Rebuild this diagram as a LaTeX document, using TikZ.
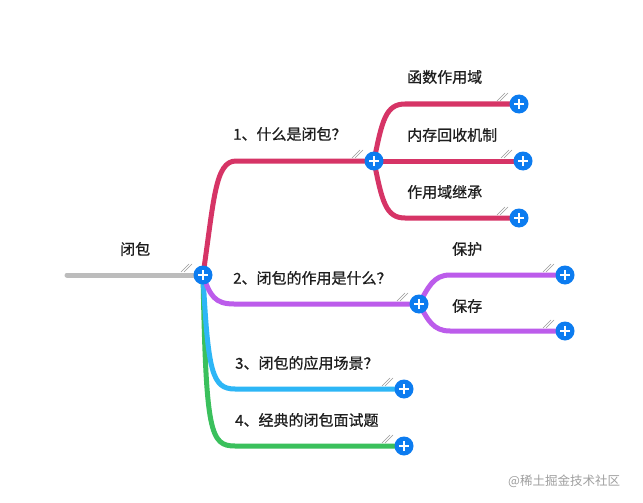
\documentclass[tikz,border=0pt]{standalone}
\usepackage{fontspec}
\setmainfont{Noto Sans CJK SC}
\newfontfamily\lblfont{Noto Sans CJK SC}[FakeBold=0.8]
\usetikzlibrary{backgrounds}
\definecolor{cred}{RGB}{214,52,102}
\definecolor{cpur}{RGB}{188,92,235}
\definecolor{cblu}{RGB}{45,182,246}
\definecolor{cgrn}{RGB}{58,192,92}
\definecolor{cgry}{RGB}{188,188,188}
\definecolor{cplus}{RGB}{12,124,240}
\definecolor{ctxt}{RGB}{30,30,30}
\tikzset{
  plusbtn/.style={circle,fill=cplus,minimum size=19pt,inner sep=0pt,
    path picture={\draw[white,line width=2.6pt]
      ([xshift=-5pt]path picture bounding box.center) -- ([xshift=5pt]path picture bounding box.center)
      ([yshift=-5pt]path picture bounding box.center) -- ([yshift=5pt]path picture bounding box.center);}},
  branch/.style={line width=5pt,line cap=round},
  lbl/.style={anchor=west,inner sep=0pt,text=ctxt,font=\lblfont\fontsize{15pt}{17pt}\selectfont},
  hatch/.style={draw=gray!80,line width=0.5pt}
}
\newcommand\hatchat[1]{%
  \draw[hatch] ([shift={(-22pt,3pt)}]#1.center) -- ++(8pt,8pt);
  \draw[hatch] ([shift={(-19pt,3pt)}]#1.center) -- ++(8pt,8pt);}
\begin{document}
\begin{tikzpicture}[x=1pt,y=-1pt]
\useasboundingbox (0,0) rectangle (643,503);
% plus buttons
\node[plusbtn] (root) at (203,275) {};
\node[plusbtn] (p1) at (374,161) {};
\node[plusbtn] (p2) at (419,304) {};
\node[plusbtn] (p3) at (404,389) {};
\node[plusbtn] (p4) at (404,446) {};
\node[plusbtn] (p11) at (519,104) {};
\node[plusbtn] (p12) at (523,161) {};
\node[plusbtn] (p13) at (519,218) {};
\node[plusbtn] (p21) at (565,275) {};
\node[plusbtn] (p22) at (565,331) {};
\coordinate (rootstart) at (67,275);
\begin{scope}[on background layer]
\fill[white] (0,0) rectangle (643,503);
\draw[branch,cgry] (rootstart) -- (root.center);
\draw[branch,cgrn] (root.center) .. controls (206,432) and (210,446) .. (235,446) -- (p4.center);
\draw[branch,cblu] (root.center) .. controls (208,372) and (212,389) .. (235,389) -- (p3.center);
\draw[branch,cpur] (root.center) .. controls (210,296) and (215,304) .. (234,304) -- (p2.center);
\draw[branch,cred] (root.center) .. controls (214,200) and (215,161) .. (236,161) -- (p1.center);
\draw[branch,cred] (p1.center) .. controls (382,120) and (386,104) .. (405,104) -- (p11.center);
\draw[branch,cred] (p1.center) -- (p12.center);
\draw[branch,cred] (p1.center) .. controls (382,202) and (386,218) .. (405,218) -- (p13.center);
\draw[branch,cpur] (p2.center) .. controls (428,288) and (433,275) .. (450,275) -- (p21.center);
\draw[branch,cpur] (p2.center) .. controls (428,320) and (433,331) .. (450,331) -- (p22.center);
\end{scope}
\hatchat{root}\hatchat{p1}\hatchat{p2}\hatchat{p3}\hatchat{p4}
\hatchat{p11}\hatchat{p12}\hatchat{p13}\hatchat{p21}\hatchat{p22}
% labels
\node[lbl] (t0) at (120,249) {闭包};
\node[lbl] (t1) at (233,134) {1、什么是闭包？};
\node[lbl] (t2) at (233,278) {2、闭包的作用是什么？};
\node[lbl] (t3) at (235,363) {3、闭包的应用场景？};
\node[lbl] (t4) at (235,420) {4、经典的闭包面试题};
\node[lbl] (t11) at (407,77) {函数作用域};
\node[lbl] (t12) at (407,135) {内存回收机制};
\node[lbl] (t13) at (407,192) {作用域继承};
\node[lbl] (t21) at (452,249) {保护};
\node[lbl] (t22) at (452,306) {保存};
\node[anchor=west,inner sep=0pt,text=gray!75,font=\fontsize{12.5pt}{14pt}\selectfont] (wm) at (508,481) {@稀土掘金技术社区};
\end{tikzpicture}
\end{document}
